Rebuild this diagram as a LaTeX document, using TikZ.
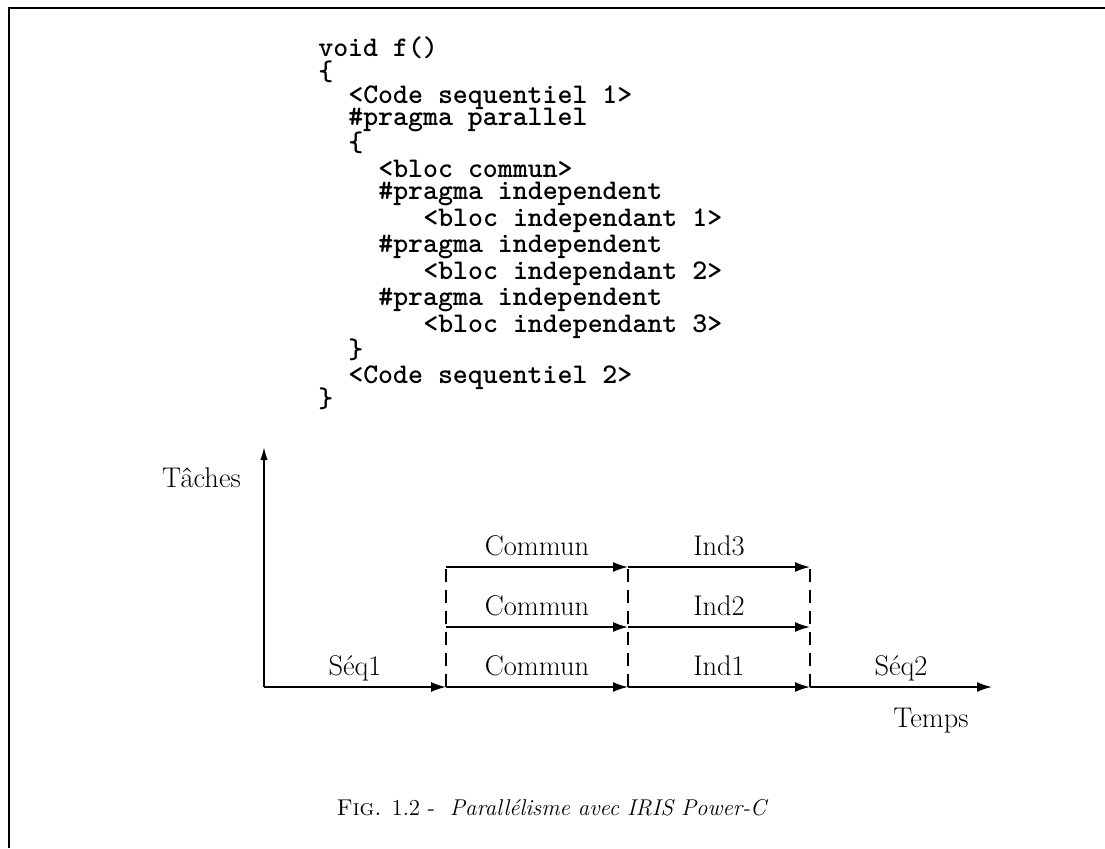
\documentclass[tikz,border=0pt]{standalone}
\usepackage{tikz}
\usetikzlibrary{arrows.meta}
\newcommand{\codefont}{\fontsize{16.2}{16}\selectfont\ttfamily\bfseries}
\newcommand{\labelfont}{\fontsize{16.2}{18}\selectfont}
\newcommand{\captionfont}{\fontsize{13}{15}\selectfont}

\begin{document}
\begin{tikzpicture}[scale=1.0,
  codeline/.style={anchor=base west, inner sep=0pt, font=\codefont},
  flow/.style={line width=1pt, -{Latex[length=0.3cm,width=0.2cm]}},
  lbl/.style={midway, anchor=base, yshift=0.24cm, inner sep=0pt, font=\labelfont},
  sync/.style={line width=0.9pt, dash pattern=on 0.26cm off 0.16cm}]
\useasboundingbox (0,0) rectangle (22.1,-16.96);
% frame (top and left only)
\draw[line width=1.1pt] (0.18,-16.96) -- (0.18,-0.16) -- (22.1,-0.16);
% source code
\foreach \ind/\y/\txt [count=\i] in {
  0/-1.12/void f(),
  0/-1.60/\{,
  2/-2.06/<Code sequentiel 1>,
  2/-2.50/\#pragma parallel,
  2/-3.02/\{,
  4/-3.54/<bloc commun>,
  4/-3.98/\#pragma independent,
  7/-4.52/<bloc independant 1>,
  4/-5.04/\#pragma independent,
  7/-5.58/<bloc independant 2>,
  4/-6.10/\#pragma independent,
  7/-6.64/<bloc independant 3>,
  2/-7.16/\},
  2/-7.66/<Code sequentiel 2>,
  0/-8.14/\}}
  \node[codeline] (code\i) at ({6.36+0.3*\ind},\y) {\txt};
% time diagram
\coordinate (o) at (5.28,-13.74);
\coordinate (ttop) at (5.28,-8.94);
\coordinate (tend) at (19.84,-13.74);
\foreach \r/\y in {1/-13.74, 2/-12.54, 3/-11.34} {
  \coordinate (a\r) at (8.92,\y);
  \coordinate (b\r) at (12.56,\y);
  \coordinate (c\r) at (16.20,\y);
}
\draw[flow, -{Latex[length=0.26cm,width=0.15cm]}] (o) -- (ttop);
\draw[flow] (o) -- node[lbl] (seq1) {Séq1} (a1);
\draw[flow] (c1) -- node[lbl] (seq2) {Séq2} (tend);
\foreach \r in {1,2,3} {
  \draw[flow] (a\r) -- node[lbl] (com\r) {Commun} (b\r);
  \draw[flow] (b\r) -- node[lbl] (ind\r) {Ind\r} (c\r);
}
% synchronisation lines
\foreach \p in {a,b,c}
  \draw[sync] (\p1) -- (\p3);
\node[anchor=base east, font=\labelfont] (taches) at (4.94,-9.74) {Tâches};
\node[anchor=base, font=\labelfont] (temps) at (18.62,-14.54) {Temps};
% caption
\node[anchor=base, font=\captionfont] (caption) at (11.05,-16.3)
  {\textsc{Fig.} 1.2 -\ \ \textit{Parallélisme avec IRIS Power-C}};
\end{tikzpicture}
\end{document}
